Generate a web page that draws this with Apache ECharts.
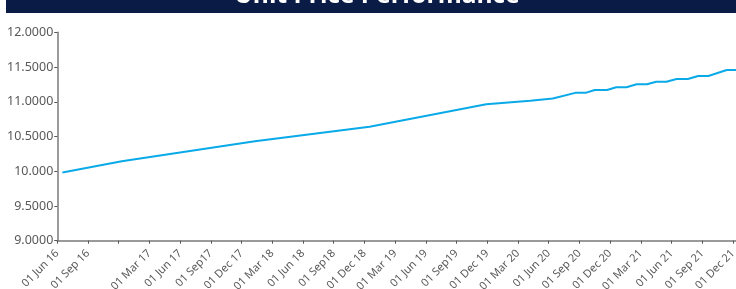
<!DOCTYPE html>
<html>
<head>
<meta charset="utf-8">
<script src="https://cdn.jsdelivr.net/npm/echarts@6/dist/echarts.min.js"></script>
<style>
html,body{margin:0;padding:0;background:#fff;}
#chart{width:736px;height:289px;}
</style>
</head>
<body>
<div id="chart"></div>
<script>
// x positions are months since 01 Jun 2016
var monthIndex = [0.5, 6.3, 19.3, 30.5, 41.9, 46.2, 48.4, 50.6, 51.6, 52.5, 53.7, 54.6, 55.6, 56.6, 57.6, 58.5, 59.5, 60.5, 61.6, 62.6, 63.6, 65.4, 66.3];
var unitPrice  = [9.982, 10.145, 10.43, 10.641, 10.965, 11.015, 11.047, 11.128, 11.128, 11.170, 11.170, 11.209, 11.209, 11.251, 11.251, 11.289, 11.289, 11.328, 11.328, 11.371, 11.371, 11.457, 11.457];
// quarterly tick labels, one per 3 months from 01 Jun 16
var xTickLabels = ["01 Jun 16","01 Sep 16","","01 Mar 17","01 Jun 17","01 Sep17","01 Dec 17","01 Mar 18","01 Jun 18","01 Sep18","01 Dec 18","01 Mar 19","01 Jun 19","01 Sep19","01 Dec 19","01 Mar 20","01 Jun 20","01 Sep 20","01 Dec 20","01 Mar 21","01 Jun 21","01 Sep 21","01 Dec 21"];
var yTickLabels = ["9.0000","9.5000","10.000","10.5000","11.0000","11.5000","12.0000"];
var titleText = "Unit Price Performance";

var seriesData = monthIndex.map(function(m, i){ return [m, unitPrice[i]]; });

var chart = echarts.init(document.getElementById('chart'), null, {renderer:'canvas'});
var labelFont = '"Noto Sans", "DejaVu Sans", sans-serif';
chart.setOption({
  animation: false,
  backgroundColor: '#ffffff',
  graphic: [
    {type:'rect', x:6, y:0, shape:{width:730, height:13}, style:{fill:'#0a1c46'}, z:10},
    {type:'text', x:377, y:-16, z:11,
      style:{text:titleText, fill:'#ffffff', font:'bold 24.5px "Open Sans", sans-serif',
             align:'center', verticalAlign:'top'}}
  ],
  grid: {left:57.3, right:0, top:32.3, bottom:48.3, containLabel:false, outerBoundsMode:'none'},
  xAxis: {
    type:'value', min:0, max:66.3, interval:3,
    axisLine:{show:true, lineStyle:{color:'#7a7a7a', width:1.5}},
    axisTick:{show:true, length:3, lineStyle:{color:'#555', width:1}},
    splitLine:{show:false},
    axisLabel:{
      rotate:45, margin:11, color:'#595959', fontSize:11, fontFamily:labelFont,
      showMaxLabel:false,
      formatter:function(v){ var i = Math.round(v/3); return xTickLabels[i] || ''; }
    }
  },
  yAxis: {
    type:'value', min:9, max:12, interval:0.5,
    axisLine:{show:true, lineStyle:{color:'#7a7a7a', width:1.5}},
    axisTick:{show:true, length:3, lineStyle:{color:'#555', width:1}},
    splitLine:{show:false},
    axisLabel:{
      margin:4, color:'#595959', fontSize:12.5, fontFamily:labelFont,
      formatter:function(v){ var i = Math.round((v-9)/0.5); return yTickLabels[i] || ''; }
    }
  },
  series: [{
    type:'line', data:seriesData, showSymbol:false, symbol:'none',
    lineStyle:{color:'#0aaae8', width:2}, smooth:false, clip:true
  }]
});
</script>
</body>
</html>
